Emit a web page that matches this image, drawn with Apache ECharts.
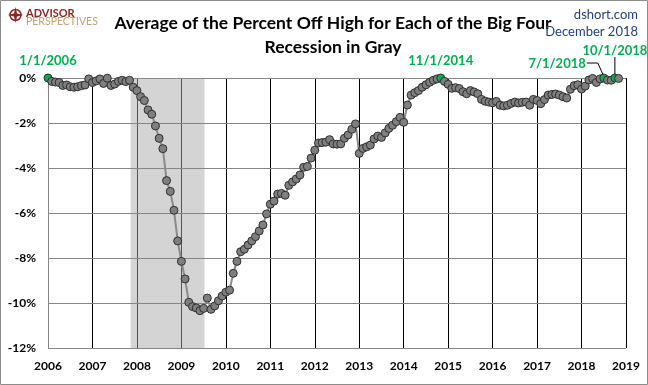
<!DOCTYPE html>
<html><head><meta charset="utf-8">
<script src="https://cdn.jsdelivr.net/npm/echarts@6/dist/echarts.min.js"></script>
<style>html,body{margin:0;padding:0;background:#fff}#c{width:648px;height:385px}</style>
</head><body><div id="c"></div>
<script>
// Monthly values (percent off high), Jan..Dec
const startYear = 2006;
const v2006 = [0, -0.15, -0.18, -0.2, -0.33, -0.31, -0.39, -0.41, -0.39, -0.34, -0.31, -0.04];
const v2007 = [-0.2, -0.13, -0.04, -0.24, -0.01, -0.33, -0.27, -0.15, -0.1, -0.16, -0.1, -0.41];
const v2008 = [-0.56, -0.83, -1.0, -1.42, -1.61, -2.13, -2.68, -3.14, -4.56, -5.04, -5.88, -7.24];
const v2009 = [-8.15, -8.93, -9.97, -10.16, -10.22, -10.34, -10.24, -9.78, -10.28, -10.13, -9.9, -9.69];
const v2010 = [-9.52, -9.43, -8.68, -8.15, -7.72, -7.61, -7.42, -7.24, -7.05, -6.8, -6.53, -6.04];
const v2011 = [-5.61, -5.47, -5.16, -5.13, -5.21, -4.77, -4.62, -4.49, -4.31, -3.97, -3.93, -3.56];
const v2012 = [-3.21, -2.89, -2.87, -2.85, -2.74, -2.93, -2.94, -2.93, -2.68, -2.53, -2.28, -2.04];
const v2013 = [-3.35, -3.13, -3.06, -2.98, -2.71, -2.58, -2.64, -2.44, -2.24, -2.1, -1.94, -1.75];
const v2014 = [-1.97, -1.2, -0.76, -0.65, -0.56, -0.41, -0.3, -0.19, -0.1, -0.04, 0, -0.15];
const v2015 = [-0.28, -0.46, -0.43, -0.47, -0.61, -0.7, -0.56, -0.62, -0.7, -0.95, -1.03, -1.07];
const v2016 = [-1.1, -1.04, -1.21, -1.24, -1.21, -1.13, -1.07, -1.11, -1.08, -1.07, -1.21, -0.95];
const v2017 = [-1.0, -1.14, -0.96, -0.76, -0.73, -0.71, -0.76, -0.83, -0.89, -0.5, -0.34, -0.3];
const v2018 = [-0.49, -0.36, -0.09, -0.02, -0.2, -0.04, 0, -0.09, -0.1, 0, -0.02];
const yearly = [v2006, v2007, v2008, v2009, v2010, v2011, v2012, v2013, v2014, v2015, v2016, v2017, v2018];

// Highlighted new highs: [label, year, monthIndex]
const highLabels = ['1/1/2006', '11/1/2014', '7/1/2018', '10/1/2018'];
const highYears = [2006, 2014, 2018, 2018];
const highMonths = [0, 10, 6, 9];

const recessionStart = 2007.86;
const recessionEnd = 2009.52;
const yTicks = [0, -2, -4, -6, -8, -10, -12];

const GREEN = '#00B050';
const data = [];
yearly.forEach((arr, k) => arr.forEach((v, i) => {
  const yr = startYear + k;
  const isHigh = highYears.some((hy, j) => hy === yr && highMonths[j] === i);
  const item = { value: [yr + i / 12, v] };
  if (isHigh) item.itemStyle = { color: GREEN, borderColor: '#2f2f2f' };
  data.push(item);
}));

const chart = echarts.init(document.getElementById('c'), null, { renderer: 'canvas' });
const FONT = 'Lato';
chart.setOption({
  animation: false,
  backgroundColor: '#fff',
  grid: { left: 48, right: 22, top: 78, bottom: 37 },
  xAxis: {
    type: 'value', min: 2006, max: 2019, interval: 1, z: 0,
    axisLine: { show: false }, axisTick: { show: false },
    splitLine: { show: true, lineStyle: { color: '#000', width: 1 } },
    axisLabel: { color: '#000', fontWeight: 'bold', fontSize: 12, fontFamily: FONT, margin: 12, formatter: v => String(v) }
  },
  yAxis: {
    type: 'value', min: Math.min(...yTicks), max: Math.max(...yTicks), interval: 2, z: 2,
    axisLine: { show: true, lineStyle: { color: '#868686' } }, axisTick: { show: false },
    splitLine: { show: true, lineStyle: { color: '#868686', width: 1 } },
    axisLabel: { color: '#000', fontWeight: 'bold', fontSize: 12, fontFamily: FONT, margin: 12, formatter: v => v + '%' }
  },
  series: [
    {
      type: 'line', data: [], z: 1, silent: true,
      markArea: { silent: true, itemStyle: { color: 'rgba(170,170,170,0.5)' },
        data: [[{ xAxis: recessionStart }, { xAxis: recessionEnd }]] }
    },
    {
      type: 'line', data: data, z: 3,
      symbol: 'circle', symbolSize: 8, showAllSymbol: true,
      lineStyle: { color: '#8a8a8a', width: 2 },
      itemStyle: { color: '#7f7f7f', borderColor: '#2f2f2f', borderWidth: 1 }
    }
  ]
});

// annotations
const g = [];
g.push({ type: 'rect', shape: { x: 0.5, y: 0.5, width: 647, height: 384 }, style: { fill: 'none', stroke: '#8c8c8c', lineWidth: 1 }, z: 100 });
g.push({ type: 'text', x: 333, y: 11, style: { text: 'Average of the Percent Off High for Each of the Big Four\nRecession in Gray', align: 'center', verticalAlign: 'top', font: 'bold 17.5px ' + FONT, fill: '#000', lineHeight: 24 }, z: 100 });
g.push({ type: 'text', x: 638, y: 6, style: { text: 'dshort.com\nDecember 2018', align: 'right', verticalAlign: 'top', font: '13px ' + FONT, fill: '#1F3F7F', lineHeight: 17 }, z: 100 });
// logo
g.push({ type: 'circle', shape: { cx: 15.5, cy: 15, r: 5.5 }, style: { fill: 'none', stroke: '#8B2525', lineWidth: 1.5 }, z: 100 });
g.push({ type: 'polygon', shape: { points: [[15.5, 7], [17, 13.5], [23.5, 15], [17, 16.5], [15.5, 23], [14, 16.5], [7.5, 15], [14, 13.5]] }, style: { fill: '#8B2525' }, z: 101 });
g.push({ type: 'text', x: 26, y: 7.5, style: { text: 'ADVISOR', font: 'bold 11px ' + FONT, fill: '#8B2525', verticalAlign: 'top' }, z: 100 });
g.push({ type: 'text', x: 26, y: 16.5, style: { text: 'PERSPECTIVES', font: '10.5px ' + FONT, fill: '#C2A56A', verticalAlign: 'top' }, z: 100 });

highLabels.forEach((lab, j) => {
  const p = chart.convertToPixel({ gridIndex: 0 }, [highYears[j] + highMonths[j] / 12, 0]);
  const px = p[0], py = p[1];
  const font = 'bold 13px ' + FONT;
  if (lab === '7/1/2018') {
    g.push({ type: 'text', x: px - 18, y: py - 14, style: { text: lab, align: 'right', verticalAlign: 'middle', font, fill: GREEN }, z: 100 });
    g.push({ type: 'polyline', shape: { points: [[px - 17, py - 15], [px - 6, py - 15], [px - 1, py - 4]] }, style: { stroke: '#000', lineWidth: 1, fill: 'none' }, z: 100 });
  } else if (lab === '10/1/2018') {
    g.push({ type: 'text', x: px, y: py - 27, style: { text: lab, align: 'center', verticalAlign: 'middle', font, fill: GREEN }, z: 100 });
    g.push({ type: 'line', shape: { x1: px, y1: py - 21, x2: px, y2: py - 4 }, style: { stroke: '#000', lineWidth: 1 }, z: 100 });
  } else {
    g.push({ type: 'text', x: px, y: py - 17, style: { text: lab, align: 'center', verticalAlign: 'middle', font, fill: GREEN }, z: 100 });
  }
});
chart.setOption({ graphic: g });
</script></body></html>
